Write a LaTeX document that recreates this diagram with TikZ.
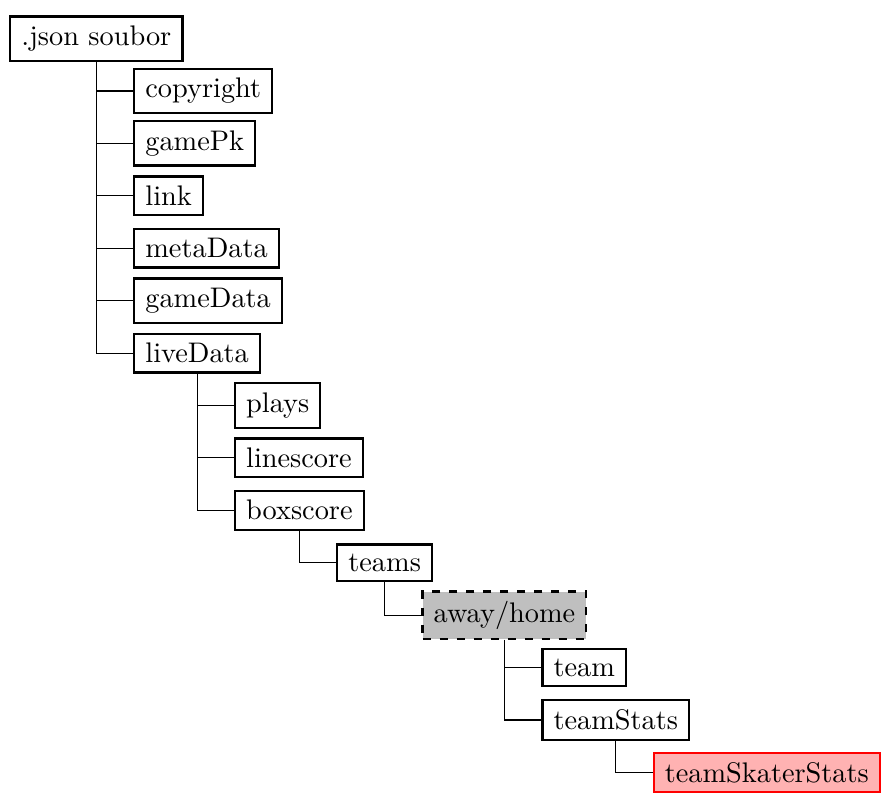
\documentclass[tikz,border=0pt]{standalone}
\usepackage{tikz}
\usetikzlibrary{
  positioning,
  calc
}
\definecolor{KeyGray}{RGB}{191,191,191}
\definecolor{KeyRed}{RGB}{255,178,178}
\tikzset{
  keybox/.style={
    draw=black,
    fill=white,
    thick,
    anchor=west,
    inner xsep=3.9pt,
    inner ysep=3.33pt,
    font=\normalsize
  },
  arraybox/.style={keybox,dashed,fill=KeyGray},
  targetbox/.style={keybox,draw=red,fill=KeyRed},
  branch/.style={draw=black,thin}
}
\newcommand{\rowh}{18.5pt}
\newcommand{\kidshift}{13pt}

\begin{document}
\begin{tikzpicture}
  % root and first level
  \node[keybox] (root) at (0,0) {.json soubor};
  \node[keybox, xshift=\kidshift] (copyright) at (root.south |- 0,-1*\rowh) {copyright};
  \node[keybox, xshift=\kidshift] (gamePk) at (root.south |- 0,-2*\rowh) {gamePk};
  \node[keybox, xshift=\kidshift] (link) at (root.south |- 0,-3*\rowh) {link};
  \node[keybox, xshift=\kidshift] (metaData) at (root.south |- 0,-4*\rowh) {metaData};
  \node[keybox, xshift=\kidshift] (gameData) at (root.south |- 0,-5*\rowh) {gameData};
  \node[keybox, xshift=\kidshift] (liveData) at (root.south |- 0,-6*\rowh) {liveData};

  % liveData
  \node[keybox, xshift=\kidshift] (plays) at (liveData.south |- 0,-7*\rowh) {plays};
  \node[keybox, xshift=\kidshift] (linescore) at (liveData.south |- 0,-8*\rowh) {linescore};
  \node[keybox, xshift=\kidshift] (boxscore) at (liveData.south |- 0,-9*\rowh) {boxscore};

  % boxscore
  \node[keybox, xshift=\kidshift] (teams) at (boxscore.south |- 0,-10*\rowh) {teams};
  \node[arraybox, xshift=\kidshift] (awayhome) at (teams.south |- 0,-11*\rowh) {away/home};
  \node[keybox, xshift=\kidshift] (team) at (awayhome.south |- 0,-12*\rowh) {team};
  \node[keybox, xshift=\kidshift] (teamStats) at (awayhome.south |- 0,-13*\rowh) {teamStats};
  \node[targetbox, xshift=\kidshift] (skater) at (teamStats.south |- 0,-14*\rowh) {teamSkaterStats};

  \foreach \kid in {copyright,gamePk,link,metaData,gameData,liveData}
    \draw[branch] (root.south) |- (\kid.west);
  \foreach \kid in {plays,linescore,boxscore}
    \draw[branch] (liveData.south) |- (\kid.west);
  \draw[branch] (boxscore.south) |- (teams.west);
  \draw[branch] (teams.south) |- (awayhome.west);
  \foreach \kid in {team,teamStats}
    \draw[branch] (awayhome.south) |- (\kid.west);
  \draw[branch] (teamStats.south) |- (skater.west);

  \coordinate (corner) at ($(root.north west)+(-3.25pt,5.4pt)$);
  \useasboundingbox (corner) rectangle ++(308pt,-277.6pt);
\end{tikzpicture}
\end{document}
